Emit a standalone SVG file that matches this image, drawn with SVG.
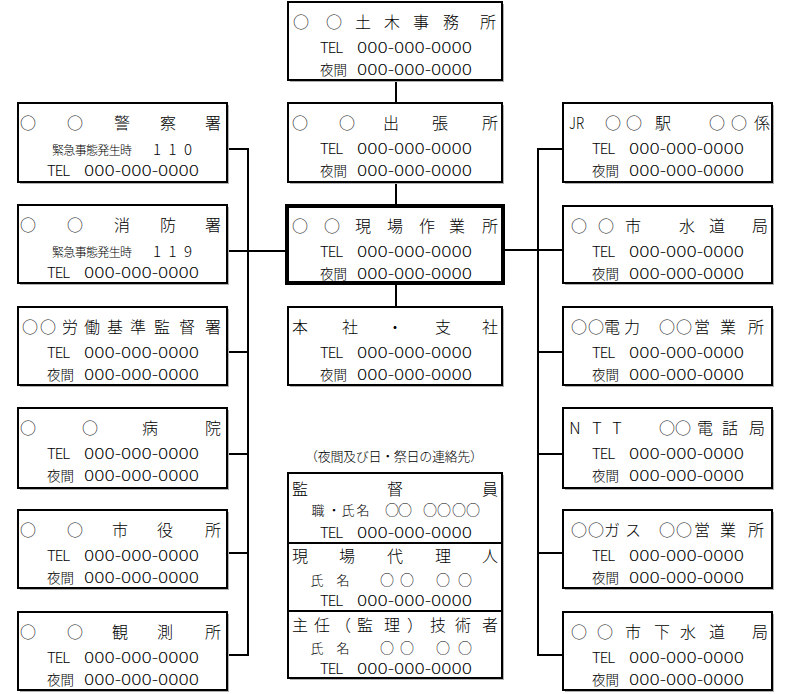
<svg xmlns="http://www.w3.org/2000/svg" width="787" height="694" viewBox="0 0 787 694">
<style>
.bg{fill:#fff}
.sh{fill:#b0b0b0}
.box{fill:#fff;stroke:#000;stroke-width:2}
.thick{fill:#fff;stroke:#000;stroke-width:4}
.div{stroke:#000;stroke-width:2}
.ln{stroke:#000;stroke-width:2;fill:none}
text{font-family:"Noto Sans CJK JP","Noto Sans CJK SC",sans-serif;fill:#000;font-weight:300}
.t{font-size:16px;text-anchor:middle}
.tl{font-size:16px}
.s{font-size:13.5px}
.n{font-size:15px}
.e{font-size:12px}
.c{font-size:13px;text-anchor:middle}
.o{font-size:14px;text-anchor:middle}
</style>
<rect class="bg" x="0" y="0" width="787" height="694"/>

<g id="connectors">
<path class="ln" d="M396,80V103M396,182V206M396,283V307"/>
<path class="ln" d="M227,149H248V655H227M227,251H287M227,352H248M227,454H248M227,553H248"/>
<path class="ln" d="M563,149H538V655H563M503,250H563M538,352H563M538,454H563M538,553H563"/>
</g>

<g id="n-doboku">
<rect class="sh" x="290" y="4" width="214" height="78"/>
<rect class="box" x="288" y="2" width="214" height="78"/>
<text class="t" x="301 334 363 392 421 451 488" y="28">○○土木事務所</text>
<text class="n" x="320" y="53" textLength="23">TEL</text>
<text class="n" x="357" y="53" textLength="115" lengthAdjust="spacingAndGlyphs">000-000-0000</text>
<text class="s" x="320" y="75">夜間</text>
<text class="n" x="357" y="75" textLength="115" lengthAdjust="spacingAndGlyphs">000-000-0000</text>
</g>

<g id="n-police">
<rect class="sh" x="20" y="105" width="209" height="79"/>
<rect class="box" x="18" y="103" width="209" height="79"/>
<text class="t" x="28 75 122 168 213" y="129">○○警察署</text>
<text class="e" x="52" y="155" textLength="80">緊急事態発生時</text>
<text class="n" x="153" y="155" textLength="39">110</text>
<text class="n" x="47" y="176" textLength="23">TEL</text>
<text class="n" x="84" y="176" textLength="115" lengthAdjust="spacingAndGlyphs">000-000-0000</text>
</g>

<g id="n-fire">
<rect class="sh" x="20" y="207" width="209" height="78"/>
<rect class="box" x="18" y="205" width="209" height="78"/>
<text class="t" x="28 75 122 168 213" y="231">○○消防署</text>
<text class="e" x="52" y="257" textLength="80">緊急事態発生時</text>
<text class="n" x="153" y="257" textLength="39">119</text>
<text class="n" x="47" y="278" textLength="23">TEL</text>
<text class="n" x="84" y="278" textLength="115" lengthAdjust="spacingAndGlyphs">000-000-0000</text>
</g>

<g id="n-labour">
<rect class="sh" x="20" y="309" width="209" height="78"/>
<rect class="box" x="18" y="307" width="209" height="78"/>
<text class="t" x="30 48 70 92 115 138 162 187 213" y="333">○○労働基準監督署</text>
<text class="n" x="47" y="358" textLength="23">TEL</text>
<text class="n" x="84" y="358" textLength="115" lengthAdjust="spacingAndGlyphs">000-000-0000</text>
<text class="s" x="47" y="380">夜間</text>
<text class="n" x="84" y="380" textLength="115" lengthAdjust="spacingAndGlyphs">000-000-0000</text>
</g>

<g id="n-hospital">
<rect class="sh" x="20" y="410" width="209" height="80"/>
<rect class="box" x="18" y="408" width="209" height="80"/>
<text class="t" x="28 90 150 213" y="434">○○病院</text>
<text class="n" x="47" y="459" textLength="23">TEL</text>
<text class="n" x="84" y="459" textLength="115" lengthAdjust="spacingAndGlyphs">000-000-0000</text>
<text class="s" x="47" y="481">夜間</text>
<text class="n" x="84" y="481" textLength="115" lengthAdjust="spacingAndGlyphs">000-000-0000</text>
</g>

<g id="n-cityhall">
<rect class="sh" x="20" y="512" width="209" height="78"/>
<rect class="box" x="18" y="510" width="209" height="78"/>
<text class="t" x="28 75 120 165 213" y="536">○○市役所</text>
<text class="n" x="47" y="561" textLength="23">TEL</text>
<text class="n" x="84" y="561" textLength="115" lengthAdjust="spacingAndGlyphs">000-000-0000</text>
<text class="s" x="47" y="583">夜間</text>
<text class="n" x="84" y="583" textLength="115" lengthAdjust="spacingAndGlyphs">000-000-0000</text>
</g>

<g id="n-observatory">
<rect class="sh" x="20" y="614" width="209" height="78"/>
<rect class="box" x="18" y="612" width="209" height="78"/>
<text class="t" x="28 75 120 165 213" y="638">○○観測所</text>
<text class="n" x="47" y="663" textLength="23">TEL</text>
<text class="n" x="84" y="663" textLength="115" lengthAdjust="spacingAndGlyphs">000-000-0000</text>
<text class="s" x="47" y="685">夜間</text>
<text class="n" x="84" y="685" textLength="115" lengthAdjust="spacingAndGlyphs">000-000-0000</text>
</g>

<g id="n-branch">
<rect class="sh" x="290" y="105" width="214" height="79"/>
<rect class="box" x="288" y="103" width="214" height="79"/>
<text class="t" x="300 347 391 440 490" y="129">○○出張所</text>
<text class="n" x="320" y="154" textLength="23">TEL</text>
<text class="n" x="357" y="154" textLength="115" lengthAdjust="spacingAndGlyphs">000-000-0000</text>
<text class="s" x="320" y="176">夜間</text>
<text class="n" x="357" y="176" textLength="115" lengthAdjust="spacingAndGlyphs">000-000-0000</text>
</g>

<g id="n-site">
<rect class="sh" x="289" y="208" width="216" height="77"/>
<rect class="thick" x="287" y="206" width="216" height="77"/>
<text class="t" x="300 332 363 395 427 457 490" y="232">○○現場作業所</text>
<text class="n" x="320" y="257" textLength="23">TEL</text>
<text class="n" x="357" y="257" textLength="115" lengthAdjust="spacingAndGlyphs">000-000-0000</text>
<text class="s" x="320" y="279">夜間</text>
<text class="n" x="357" y="279" textLength="115" lengthAdjust="spacingAndGlyphs">000-000-0000</text>
</g>

<g id="n-headoffice">
<rect class="sh" x="290" y="309" width="214" height="78"/>
<rect class="box" x="288" y="307" width="214" height="78"/>
<text class="t" x="300 350 395 443 490" y="333">本社・支社</text>
<text class="n" x="320" y="358" textLength="23">TEL</text>
<text class="n" x="357" y="358" textLength="115" lengthAdjust="spacingAndGlyphs">000-000-0000</text>
<text class="s" x="320" y="380">夜間</text>
<text class="n" x="357" y="380" textLength="115" lengthAdjust="spacingAndGlyphs">000-000-0000</text>
</g>

<g id="n-contacts">
<text class="c" x="394" y="461" textLength="178">（夜間及び日・祭日の連絡先）</text>
<rect class="sh" x="290" y="475" width="214" height="205"/>
<rect class="box" x="288" y="473" width="214" height="205"/>
<line class="div" x1="288" y1="543" x2="502" y2="543"/>
<line class="div" x1="288" y1="611" x2="502" y2="611"/>
<text class="t" x="300 395 490" y="495">監督員</text>
<text class="c" x="318 334 348 363" y="515">職・氏名</text>
<text class="o" x="392 405 430 444 459 473" y="515">○○○○○○</text>
<text class="n" x="320" y="538" textLength="23">TEL</text>
<text class="n" x="357" y="538" textLength="115" lengthAdjust="spacingAndGlyphs">000-000-0000</text>
<text class="t" x="300 347 395 443 490" y="562">現場代理人</text>
<text class="c" x="317 343" y="585">氏名</text>
<text class="o" x="387 407 443 465" y="585">○○○○</text>
<text class="n" x="320" y="606" textLength="23">TEL</text>
<text class="n" x="357" y="606" textLength="115" lengthAdjust="spacingAndGlyphs">000-000-0000</text>
<text class="t" x="300 322 343 365 392 415 438 463 490" y="631">主任（監理）技術者</text>
<text class="c" x="317 343" y="653">氏名</text>
<text class="o" x="387 407 443 465" y="653">○○○○</text>
<text class="n" x="320" y="674" textLength="23">TEL</text>
<text class="n" x="357" y="674" textLength="115" lengthAdjust="spacingAndGlyphs">000-000-0000</text>
</g>

<g id="n-jr">
<rect class="sh" x="565" y="105" width="209" height="79"/>
<rect class="box" x="563" y="103" width="209" height="79"/>
<text class="tl" x="569" y="129" textLength="15" lengthAdjust="spacingAndGlyphs">JR</text>
<text class="t" x="613 634 663 717 739 762" y="129">○○駅○○係</text>
<text class="n" x="592" y="154" textLength="23">TEL</text>
<text class="n" x="629" y="154" textLength="115" lengthAdjust="spacingAndGlyphs">000-000-0000</text>
<text class="s" x="592" y="176">夜間</text>
<text class="n" x="629" y="176" textLength="115" lengthAdjust="spacingAndGlyphs">000-000-0000</text>
</g>

<g id="n-water">
<rect class="sh" x="565" y="208" width="209" height="77"/>
<rect class="box" x="563" y="206" width="209" height="77"/>
<text class="t" x="579 606 633 687 717 760" y="232">○○市水道局</text>
<text class="n" x="592" y="257" textLength="23">TEL</text>
<text class="n" x="629" y="257" textLength="115" lengthAdjust="spacingAndGlyphs">000-000-0000</text>
<text class="s" x="592" y="279">夜間</text>
<text class="n" x="629" y="279" textLength="115" lengthAdjust="spacingAndGlyphs">000-000-0000</text>
</g>

<g id="n-power">
<rect class="sh" x="565" y="309" width="209" height="78"/>
<rect class="box" x="563" y="307" width="209" height="78"/>
<text class="t" x="579 596 612 632 667 684 702 728 756" y="333">○○電力○○営業所</text>
<text class="n" x="592" y="358" textLength="23">TEL</text>
<text class="n" x="629" y="358" textLength="115" lengthAdjust="spacingAndGlyphs">000-000-0000</text>
<text class="s" x="592" y="380">夜間</text>
<text class="n" x="629" y="380" textLength="115" lengthAdjust="spacingAndGlyphs">000-000-0000</text>
</g>

<g id="n-ntt">
<rect class="sh" x="565" y="410" width="209" height="80"/>
<rect class="box" x="563" y="408" width="209" height="80"/>
<text class="t" x="575 597 617 667 683 705 730 757" y="434">NTT○○電話局</text>
<text class="n" x="592" y="459" textLength="23">TEL</text>
<text class="n" x="629" y="459" textLength="115" lengthAdjust="spacingAndGlyphs">000-000-0000</text>
<text class="s" x="592" y="481">夜間</text>
<text class="n" x="629" y="481" textLength="115" lengthAdjust="spacingAndGlyphs">000-000-0000</text>
</g>

<g id="n-gas">
<rect class="sh" x="565" y="512" width="209" height="78"/>
<rect class="box" x="563" y="510" width="209" height="78"/>
<text class="t" x="579 596 612 633 667 684 702 728 756" y="536">○○ガス○○営業所</text>
<text class="n" x="592" y="561" textLength="23">TEL</text>
<text class="n" x="629" y="561" textLength="115" lengthAdjust="spacingAndGlyphs">000-000-0000</text>
<text class="s" x="592" y="583">夜間</text>
<text class="n" x="629" y="583" textLength="115" lengthAdjust="spacingAndGlyphs">000-000-0000</text>
</g>

<g id="n-sewer">
<rect class="sh" x="565" y="614" width="209" height="78"/>
<rect class="box" x="563" y="612" width="209" height="78"/>
<text class="t" x="579 605 633 662 688 717 760" y="638">○○市下水道局</text>
<text class="n" x="592" y="663" textLength="23">TEL</text>
<text class="n" x="629" y="663" textLength="115" lengthAdjust="spacingAndGlyphs">000-000-0000</text>
<text class="s" x="592" y="685">夜間</text>
<text class="n" x="629" y="685" textLength="115" lengthAdjust="spacingAndGlyphs">000-000-0000</text>
</g>
</svg>
